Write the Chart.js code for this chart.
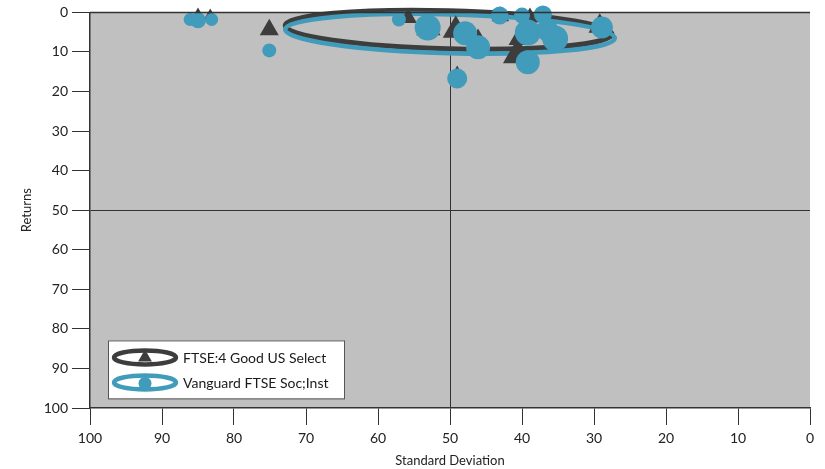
<!DOCTYPE html>
<html><head><meta charset="utf-8">
<script src="https://cdn.jsdelivr.net/npm/chart.js@4/dist/chart.umd.min.js"></script>
<style>html,body{margin:0;padding:0;background:#fff}#wrap{width:825px;height:469px}</style>
</head><body><div id="wrap"><canvas id="c" width="825" height="469"></canvas></div>
<script>
// ---- data ----
const seriesNames = ['FTSE:4 Good US Select', 'Vanguard FTSE Soc;Inst'];
const xTitle = 'Standard Deviation';
const yTitle = 'Returns';

// FTSE:4 Good US Select (triangles)
const ftseStdDev = [85.0, 83.3, 75.1, 55.8, 53.0, 49.2, 49.0, 46.1, 43.0, 40.6, 40.3, 38.9, 29.2];
const ftseReturns = [0.5, 0.8, 4.4, 1.4, 4.0, 4.5, 16.2, 7.1, 1.0, 10.7, 6.6, 1.3, 3.5];
const ftseBubble = [7, 7, 11, 10, 14, 15, 11, 12, 10, 17, 13, 10, 13];

// Vanguard FTSE Soc;Inst (circles)
const vangStdDev = [86.1, 85.0, 83.1, 75.1, 57.1, 53.1, 49.0, 47.9, 46.1, 43.1, 40.0, 37.1, 39.2, 36.5, 35.4, 39.2, 28.9];
const vangReturns = [1.8, 2.0, 1.8, 9.6, 1.8, 3.8, 16.7, 5.3, 8.8, 0.8, 0.8, 0.5, 5.1, 4.5, 6.6, 12.6, 3.8];
const vangBubble = [6.5, 8, 6.5, 7, 7, 13, 10, 12, 12, 9, 8, 9, 13, 11, 13, 12, 11];

// ellipses in data units: [centre stdDev, centre returns, radius stdDev, radius returns]
const ftseEllipse = [50.2, 4.4, 22.7, 4.8];
const vangEllipse = [50.0, 5.4, 22.9, 4.9];
const ellipseTiltDeg = 1.5;

const xTicksMin = 0, xTicksMax = 100, yTicksMin = 0, yTicksMax = 100, tickStep = 10;
const crossX = 50, crossY = 50;

// ---- styles ----
const DARK = '#3d3d3d';
const TEAL = '#419bbb';
const BG = '#c0c0c0';
const FONT = 'Lato, "Open Sans", sans-serif';

function toPts(xs, ys, rs) { return xs.map((x, i) => ({ x: x, y: ys[i], r: rs[i] })); }

const bgPlugin = {
  id: 'bg',
  beforeDraw(chart) {
    const { ctx, chartArea: a } = chart;
    ctx.save();
    ctx.fillStyle = BG;
    ctx.fillRect(a.left, a.top, a.right - a.left, a.bottom - a.top);
    ctx.restore();
  },
  afterDraw(chart) {
    const { ctx, chartArea: a } = chart;
    ctx.save();
    ctx.strokeStyle = '#333';
    ctx.lineWidth = 1.5;
    ctx.beginPath();
    ctx.moveTo(a.left, a.top);
    ctx.lineTo(a.right, a.top);
    ctx.stroke();
    ctx.restore();
  }
};

const ellipsePlugin = {
  id: 'ellipses',
  beforeDatasetsDraw(chart) {
    const { ctx, scales: { x, y } } = chart;
    const defs = [[ftseEllipse, DARK, 5], [vangEllipse, TEAL, 4.5]];
    ctx.save();
    defs.forEach(([e, col, w]) => {
      const cx = x.getPixelForValue(e[0]);
      const cy = y.getPixelForValue(e[1]);
      const rx = Math.abs(x.getPixelForValue(e[0] + e[2]) - cx);
      const ry = Math.abs(y.getPixelForValue(e[1] + e[3]) - cy);
      ctx.beginPath();
      ctx.ellipse(cx, cy, rx, ry, ellipseTiltDeg * Math.PI / 180, 0, Math.PI * 2);
      ctx.strokeStyle = col;
      ctx.lineWidth = w;
      ctx.stroke();
    });
    ctx.restore();
  }
};

const legendPlugin = {
  id: 'customLegend',
  afterDraw(chart) {
    const { ctx, chartArea: a } = chart;
    const bx = a.left + 18, by = a.top + 328, bw = 236, bh = 58;
    ctx.save();
    ctx.fillStyle = '#fff';
    ctx.fillRect(bx, by, bw, bh);
    ctx.strokeStyle = '#555';
    ctx.lineWidth = 1;
    ctx.strokeRect(bx + 0.5, by + 0.5, bw, bh);
    const rows = [
      { col: DARK, shape: 'tri', label: chart.data.datasets[1].label },
      { col: TEAL, shape: 'circ', label: chart.data.datasets[0].label }
    ];
    rows.forEach((r, i) => {
      const cy = by + 17 + i * 25;
      const cx = bx + 37;
      ctx.beginPath();
      ctx.ellipse(cx, cy, 31, 7, 0, 0, Math.PI * 2);
      ctx.strokeStyle = r.col;
      ctx.lineWidth = 4.5;
      ctx.stroke();
      ctx.fillStyle = r.col;
      ctx.beginPath();
      if (r.shape === 'tri') {
        const rad = 8;
        ctx.moveTo(cx, cy - rad);
        ctx.lineTo(cx + rad * 0.866, cy + rad / 2);
        ctx.lineTo(cx - rad * 0.866, cy + rad / 2);
        ctx.closePath();
      } else {
        ctx.arc(cx, cy + 1, 6.5, 0, Math.PI * 2);
      }
      ctx.fill();
      ctx.fillStyle = '#1a1a1a';
      ctx.font = '14px ' + FONT;
      ctx.textBaseline = 'middle';
      ctx.textAlign = 'left';
      ctx.fillText(r.label, bx + 75, cy + 1);
    });
    ctx.restore();
  }
};

new Chart(document.getElementById('c'), {
  type: 'bubble',
  data: {
    datasets: [
      {
        label: seriesNames[1],
        data: toPts(vangStdDev, vangReturns, vangBubble),
        backgroundColor: TEAL,
        borderWidth: 0,
        pointStyle: 'circle',
        clip: false,
        order: 0
      },
      {
        label: seriesNames[0],
        data: toPts(ftseStdDev, ftseReturns, ftseBubble),
        backgroundColor: DARK,
        borderWidth: 0,
        pointStyle: 'triangle',
        clip: false,
        order: 1
      }
    ]
  },
  options: {
    responsive: false,
    animation: false,
    devicePixelRatio: 1,
    layout: { autoPadding: false, padding: { top: 12, right: 15, left: 0, bottom: 0 } },
    plugins: { legend: { display: false }, tooltip: { enabled: false } },
    scales: {
      x: {
        type: 'linear',
        reverse: true,
        min: xTicksMin, max: xTicksMax,
        afterFit(s) { s.height = 61; },
        ticks: { stepSize: tickStep, color: '#222', font: { family: FONT, size: 14 }, padding: 5, maxRotation: 0 },
        grid: {
          drawOnChartArea: true,
          color: c => (c.tick && c.tick.value === crossX) ? '#333' : 'rgba(0,0,0,0)',
          tickColor: '#333',
          tickLength: 17,
          lineWidth: 1
        },
        border: { color: '#333', width: 1.5 },
        title: { display: true, text: xTitle, color: '#222', font: { family: FONT, size: 13 }, padding: { top: 0, bottom: 0 } }
      },
      y: {
        type: 'linear',
        reverse: true,
        min: yTicksMin, max: yTicksMax,
        afterFit(s) { s.width = 90; },
        ticks: { stepSize: tickStep, color: '#222', font: { family: FONT, size: 14 }, padding: 4 },
        grid: {
          drawOnChartArea: true,
          color: c => (c.tick && c.tick.value === crossY) ? '#333' : 'rgba(0,0,0,0)',
          tickColor: '#333',
          tickLength: 18,
          lineWidth: 1
        },
        border: { color: '#333', width: 1.5 },
        title: { display: true, text: yTitle, color: '#222', font: { family: FONT, size: 13 }, padding: { top: 19, bottom: 0 } }
      }
    }
  },
  plugins: [bgPlugin, ellipsePlugin, legendPlugin]
});
</script></body></html>
